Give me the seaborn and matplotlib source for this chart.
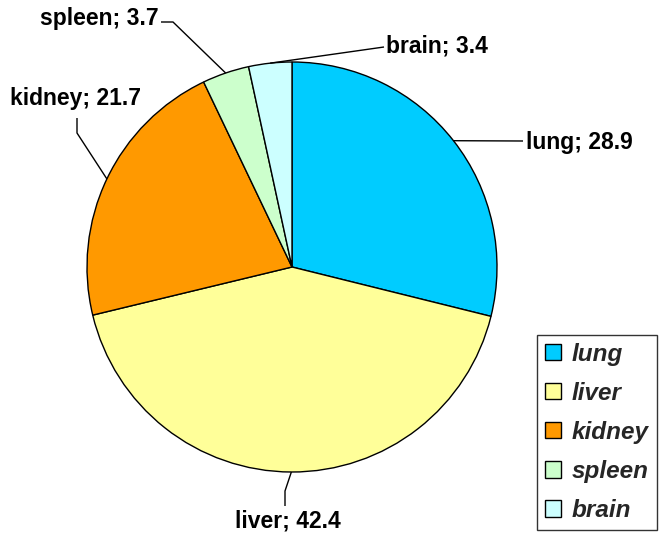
import numpy as np
import matplotlib
matplotlib.use("Agg")
import matplotlib.pyplot as plt
import seaborn as sns
from matplotlib.patches import Patch

organs = ["lung", "liver", "kidney", "spleen", "brain"]
values = [28.9, 42.4, 21.7, 3.7, 3.4]
colors = ["#00CCFF", "#FFFF99", "#FF9900", "#CCFFCC", "#CCFFFF"]

sns.set_theme(style="white")
plt.rcParams["font.family"] = ["Liberation Sans", "DejaVu Sans"]

W, H = 659, 540
CX, CY, R = 292, 267, 205  # pie centre and radius in pixels

fig = plt.figure(figsize=(W / 100, H / 100), dpi=100)
ax = fig.add_axes([0, 0, 1, 1])
ax.axis("off")

wedges, _ = ax.pie(values, colors=colors, startangle=90, counterclock=False,
                   radius=1.0, wedgeprops=dict(edgecolor="black", linewidth=1.0))
ax.set_xlim(-CX / R, (W - CX) / R)
ax.set_ylim(-(H - CY) / R, CY / R)
ax.set_aspect("auto")


def to_data(px, py):
    return (px - CX) / R, (CY - py) / R


# leader-line elbows and label anchors (pixels)
layout = {
    "lung":   dict(path=[(523, 141)], text=(526, 142), ha="left"),
    "liver":  dict(path=[(285, 491), (285, 506)], text=(288, 521), ha="center"),
    "kidney": dict(path=[(77, 133), (77, 118)], text=(76, 98), ha="center"),
    "spleen": dict(path=[(173, 22), (161, 22)], text=(159, 19), ha="right"),
    "brain":  dict(path=[(384, 47)], text=(386, 46), ha="left"),
}

for w, name, v in zip(wedges, organs, values):
    mid = np.deg2rad((w.theta1 + w.theta2) / 2)
    pts = [(np.cos(mid), np.sin(mid))] + [to_data(*p) for p in layout[name]["path"]]
    xs, ys = zip(*pts)
    ax.plot(xs, ys, color="black", linewidth=1.0, solid_capstyle="butt")
    tx, ty = to_data(*layout[name]["text"])
    ax.text(tx, ty, f"{name}; {v}", ha=layout[name]["ha"], va="center",
            fontsize=16.5, fontweight="bold", color="black")

handles = [Patch(facecolor=c, edgecolor="black", linewidth=1.0) for c in colors]
leg = fig.legend(handles, organs, loc="lower right",
                 bbox_to_anchor=(657 / W, (H - 530) / H),
                 frameon=True, fancybox=False, edgecolor="black",
                 prop=dict(family="Liberation Sans", weight="bold", style="italic", size=17.5),
                 handlelength=0.65, handleheight=0.65, handletextpad=0.45,
                 labelspacing=0.66, borderpad=0.33, borderaxespad=0)
leg.get_frame().set_linewidth(1.0)

fig.savefig("out.png", dpi=100, facecolor="white")
